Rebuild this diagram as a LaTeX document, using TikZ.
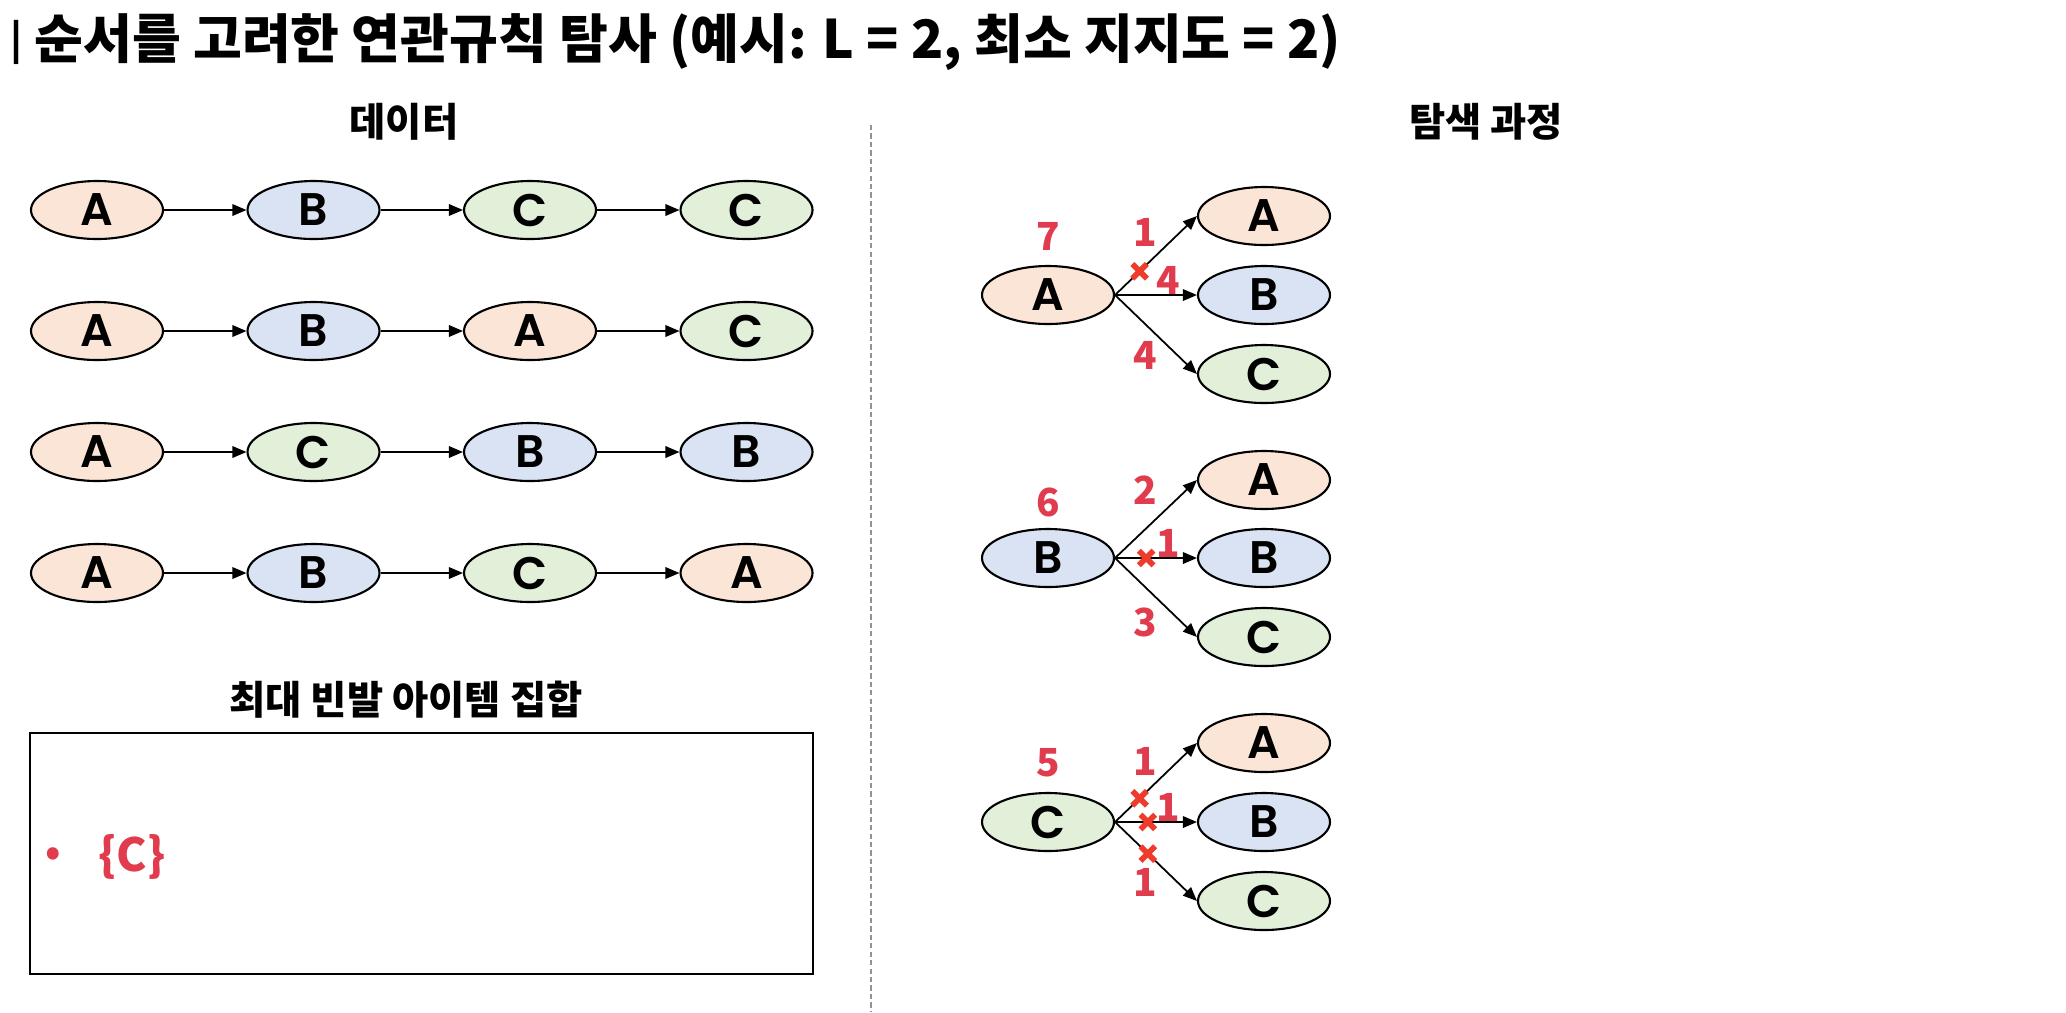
\documentclass[tikz,border=0pt]{standalone}
\usepackage{fontspec}
\setmainfont{Noto Sans CJK KR}
\newfontfamily\letterfont{Poppins SemiBold}
\usepackage{tikz}
\usetikzlibrary{shapes,arrows,positioning,calc,arrows.meta}

\definecolor{fillA}{HTML}{FBE5D6}
\definecolor{fillB}{HTML}{DAE3F3}
\definecolor{fillC}{HTML}{E2F0D9}
\definecolor{countred}{HTML}{E03C4E}
\definecolor{crossred}{HTML}{EE3B2B}

\begin{document}
\begin{tikzpicture}[
        every node/.style={font=\bfseries},
        item/.style={ellipse, draw=black, line width=0.6pt, minimum width=1.32cm, minimum height=0.58cm, inner sep=0pt, font=\letterfont\fontsize{13}{15}\selectfont},
        itemA/.style={item, fill=fillA},
        itemB/.style={item, fill=fillB},
        itemC/.style={item, fill=fillC},
        arrow/.style={-{Triangle[length=1.4mm, width=1.15mm]}, line width=0.5pt},
        heading/.style={font=\bfseries\fontsize{11.2}{13}\selectfont},
        count/.style={text=countred, inner sep=0pt, font=\bfseries\fontsize{11}{13}\selectfont},
        xmark/.style={cross out, draw=crossred, line width=1.6pt, minimum size=0.09cm, inner sep=0pt},
    ]
        \path[fill=white, use as bounding box] (0,0) rectangle (20.66,-10.12);

        \node[anchor=west, inner sep=0pt, font=\bfseries\fontsize{15.1}{18}\selectfont] (title) at (0.10,-0.42) {{\fontsize{11}{13}\selectfont\raisebox{0.05cm}{|}}\hspace{0.12cm}순서를 고려한 연관규칙 탐사 (예시: L = 2, 최소 지지도 = 2)};

        % data
        \node[heading] (datatitle) at (4.04,-1.22) {데이터};

        \node[itemA] (d11) at (0.97,-2.10) {A};
        \node[itemB, right=0.824cm of d11] (d12) {B};
        \node[itemC, right=0.824cm of d12] (d13) {C};
        \node[itemC, right=0.824cm of d13] (d14) {C};

        \node[itemA] (d21) at (0.97,-3.31) {A};
        \node[itemB, right=0.824cm of d21] (d22) {B};
        \node[itemA, right=0.824cm of d22] (d23) {A};
        \node[itemC, right=0.824cm of d23] (d24) {C};

        \node[itemA] (d31) at (0.97,-4.52) {A};
        \node[itemC, right=0.824cm of d31] (d32) {C};
        \node[itemB, right=0.824cm of d32] (d33) {B};
        \node[itemB, right=0.824cm of d33] (d34) {B};

        \node[itemA] (d41) at (0.97,-5.73) {A};
        \node[itemB, right=0.824cm of d41] (d42) {B};
        \node[itemC, right=0.824cm of d42] (d43) {C};
        \node[itemA, right=0.824cm of d43] (d44) {A};

        \draw[arrow] (d11) -- (d12);
        \draw[arrow] (d12) -- (d13);
        \draw[arrow] (d13) -- (d14);
        \draw[arrow] (d21) -- (d22);
        \draw[arrow] (d22) -- (d23);
        \draw[arrow] (d23) -- (d24);
        \draw[arrow] (d31) -- (d32);
        \draw[arrow] (d32) -- (d33);
        \draw[arrow] (d33) -- (d34);
        \draw[arrow] (d41) -- (d42);
        \draw[arrow] (d42) -- (d43);
        \draw[arrow] (d43) -- (d44);

        % maximal frequent itemsets
        \node[heading] (maxtitle) at (4.06,-7.00) {최대 빈발 아이템 집합};
        \node[draw, line width=0.6pt, minimum width=7.83cm, minimum height=2.41cm] (maxbox) at (4.215,-8.535) {};
        \node[count] (bullet) at (0.53,-8.57) {•};
        \node[count, font=\bfseries\fontsize{13}{15}\selectfont] (maxset) at (1.32,-8.57) {\{C\}};

        % divider
        \coordinate (divtop) at (8.71,-1.25);
        \coordinate (divbot) at (8.71,-10.12);
        \draw[gray!85, line width=0.6pt, dash pattern=on 1.5pt off 0.9pt] (divtop) -- (divbot);

        % search
        \node[heading] (searchtitle) at (14.86,-1.22) {탐색 과정};

        \node[itemA] (rA) at (10.48,-2.95) {A};
        \node[itemA] (rAa) at (12.64,-2.16) {A};
        \node[itemB] (rAb) at (12.64,-2.95) {B};
        \node[itemC] (rAc) at (12.64,-3.74) {C};
        \node[count, above=0.14cm of rA] (cA) {7};

        \node[itemB] (rB) at (10.48,-5.58) {B};
        \node[itemA] (rBa) at (12.64,-4.80) {A};
        \node[itemB] (rBb) at (12.64,-5.58) {B};
        \node[itemC] (rBc) at (12.64,-6.37) {C};
        \node[count, above=0.10cm of rB] (cB) {6};

        \node[itemC] (rC) at (10.48,-8.22) {C};
        \node[itemA] (rCa) at (12.64,-7.43) {A};
        \node[itemB] (rCb) at (12.64,-8.22) {B};
        \node[itemC] (rCc) at (12.64,-9.01) {C};
        \node[count, above=0.14cm of rC] (cC) {5};

        \draw[arrow] (rA.east) -- node[xmark, pos=0.3] (xA1) {} node[count, pos=0.37, above=0.18cm] (eA1) {1} (rAa.west);
        \draw[arrow] (rA.east) -- node[count, pos=0.65, above=0cm] (eA2) {4} (rAb.west);
        \draw[arrow] (rA.east) -- node[count, pos=0.37, below=0.16cm] (eA3) {4} (rAc.west);

        \draw[arrow] (rB.east) -- node[count, pos=0.37, above=0.24cm] (eB1) {2} (rBa.west);
        \draw[arrow] (rB.east) -- node[xmark, pos=0.38] (xB2) {} node[count, pos=0.65, above=0cm] (eB2) {1} (rBb.west);
        \draw[arrow] (rB.east) -- node[count, pos=0.37, below=0.20cm] (eB3) {3} (rBc.west);

        \draw[arrow] (rC.east) -- node[xmark, pos=0.3] (xC1) {} node[count, pos=0.37, above=0.16cm] (eC1) {1} (rCa.west);
        \draw[arrow] (rC.east) -- node[xmark, pos=0.4] (xC2) {} node[count, pos=0.65, above=0cm] (eC2) {1} (rCb.west);
        \draw[arrow] (rC.east) -- node[xmark, pos=0.4] (xC3) {} node[count, pos=0.37, below=0.16cm] (eC3) {1} (rCc.west);

    \end{tikzpicture}
\end{document}
